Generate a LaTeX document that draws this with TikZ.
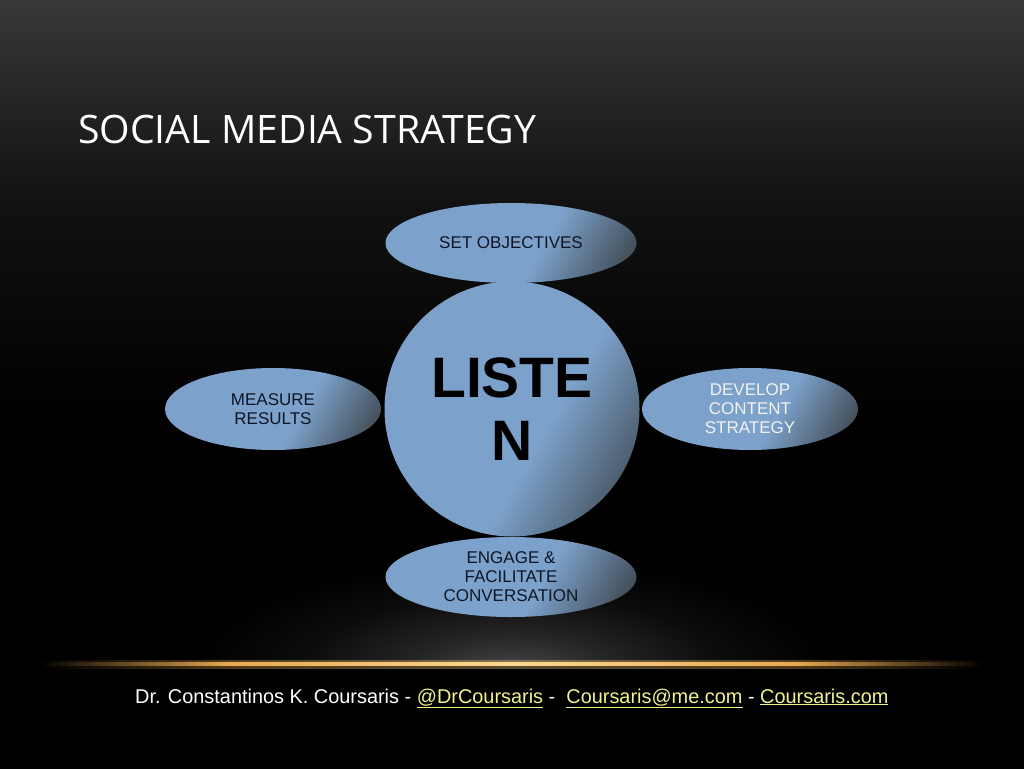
\documentclass[tikz,border=0pt]{standalone}
\usepackage{fontspec}
\setmainfont{Liberation Sans}
\newfontfamily\titlefont{Open Sans}
\usetikzlibrary{shapes.geometric}
\definecolor{ballblue}{HTML}{7CA1CA}
\definecolor{balldark}{HTML}{46535F}
\definecolor{bgtop}{HTML}{383838}
\definecolor{bgmid}{HTML}{121212}
\definecolor{inktext}{HTML}{0E1626}
\definecolor{linkyellow}{HTML}{F2F28C}
\definecolor{gold}{HTML}{E8A850}
\definecolor{goldlight}{HTML}{FFD890}
\definecolor{glowc}{HTML}{484848}
\definecolor{glowm}{HTML}{242424}
\definecolor{glowo}{HTML}{0C0C0C}
\pgfdeclarehorizontalshading{ballsh}{100bp}{color(0bp)=(ballblue); color(58bp)=(ballblue); color(78bp)=(balldark); color(100bp)=(balldark)}
\pgfdeclareverticalshading{bgsh}{100bp}{color(0bp)=(black); color(48bp)=(black); color(62bp)=(bgmid); color(75bp)=(bgtop); color(100bp)=(bgtop)}
\pgfdeclarehorizontalshading{linesh}{100bp}{color(0bp)=(black); color(25bp)=(black); color(35bp)=(gold); color(50bp)=(goldlight); color(65bp)=(gold); color(75bp)=(black); color(100bp)=(black)}
\pgfdeclareradialshading{glowsh}{\pgfpoint{0bp}{0bp}}{color(0bp)=(glowc); color(8bp)=(glowm); color(16bp)=(glowo); color(24bp)=(black); color(50bp)=(black)}
\tikzset{
  ball/.style={shading=ballsh, shading angle=-30, inner sep=0pt, align=center, text=inktext, font=\fontsize{17}{19}\selectfont},
  oval/.style={ball, ellipse, minimum width=251pt, minimum height=80pt},
  sideoval/.style={ball, ellipse, minimum width=216pt, minimum height=82pt},
  hub/.style={ball, circle, minimum size=255pt, font=\bfseries\fontsize{57}{63}\selectfont, text=black},
}
\begin{document}
\begin{tikzpicture}[x=1pt,y=-1pt]
\useasboundingbox (0,0) rectangle (1024,768);
\shade[shading=bgsh] (0,0) rectangle (1024,768);
% glow above the line
\begin{scope}
  \clip (0,500) rectangle (1024,664);
  \shade[shading=glowsh] (512,672) ellipse (330pt and 120pt);
\end{scope}
% golden line
\shade[shading=linesh, opacity=0.35] (40,660) rectangle (984,668);
\shade[shading=linesh] (40,662.5) rectangle (984,665.5);
% title
\node[anchor=base west, inner sep=0pt, text=white, font=\titlefont\fontsize{39.2}{48}\selectfont] (title) at (78,143) {SOCIAL MEDIA STRATEGY};
% diagram
\node[hub] (listen) at (512,409) {LISTE\\N};
\node[oval] (set) at (511,243) {SET OBJECTIVES};
\node[oval] (engage) at (511,577) {ENGAGE \&\\FACILITATE\\CONVERSATION};
\node[sideoval] (measure) at (273,409) {MEASURE\\RESULTS};
\node[sideoval, text=white!95!black] (develop) at (750,409) {DEVELOP\\CONTENT\\STRATEGY};
% footer
\node[anchor=base west, inner sep=0pt, text=white, font=\fontsize{19.9}{22}\selectfont] (footer) at (135,703)
  {Dr. Constantinos K. Coursaris - \textcolor{linkyellow}{\underline{@DrCoursaris}} -~ \textcolor{linkyellow}{\underline{Coursaris@me.com}} - \textcolor{linkyellow}{\underline{Coursaris.com}}};
\end{tikzpicture}
\end{document}
